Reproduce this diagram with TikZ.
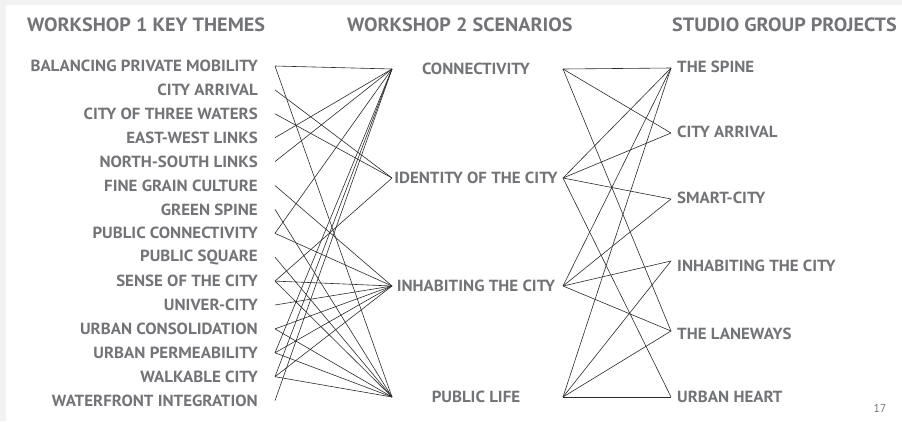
\documentclass[tikz,border=0pt]{standalone}
\usepackage{fontspec}
\setmainfont{PT Sans}
\newfontfamily\labfont[FakeStretch=1.05]{PT Sans}
\definecolor{txtgray}{HTML}{737477}
\definecolor{linegray}{HTML}{2B2B2B}
\definecolor{bggray}{HTML}{F2F2F2}
\begin{document}
\begin{tikzpicture}[x=1pt,y=-1pt,
  title/.style={font=\labfont\bfseries\fontsize{19.2}{20}\selectfont, text=txtgray, inner sep=0pt, anchor=west},
  lab/.style={font=\labfont\bfseries\fontsize{16.1}{17}\selectfont, text=txtgray, inner sep=0pt},
  conn/.style={draw=linegray, line width=0.6pt}]
\fill[bggray] (0,0) rectangle (902,421);
\fill[white] (6,5) rectangle (902,421);
\useasboundingbox (0,0) rectangle (902,421);
% titles
\node[title] (t1) at (27,25) {WORKSHOP 1 KEY THEMES};
\node[title] (t2) at (347,25) {WORKSHOP 2 SCENARIOS};
\node[title] (t3) at (672,25) {STUDIO GROUP PROJECTS};
% left column
\foreach \i/\t in {1/BALANCING PRIVATE MOBILITY,2/CITY ARRIVAL,3/CITY OF THREE WATERS,4/EAST-WEST LINKS,5/NORTH-SOUTH LINKS,6/FINE GRAIN CULTURE,7/GREEN SPINE,8/PUBLIC CONNECTIVITY,9/PUBLIC SQUARE,10/SENSE OF THE CITY,11/UNIVER-CITY,12/URBAN CONSOLIDATION,13/URBAN PERMEABILITY,14/WALKABLE CITY,15/WATERFRONT INTEGRATION}{
  \node[lab, anchor=east] (L\i) at (258,{66+(\i-1)*23.9}) {\t};
  \coordinate (l\i) at (275,{66+(\i-1)*23.9});
}
% middle column
\foreach \n/\y/\t in {C/69/CONNECTIVITY,I/178/IDENTITY OF THE CITY,H/286/INHABITING THE CITY,P/397/PUBLIC LIFE}{
  \node[lab] (M\n) at (476,\y) {\t};
  \coordinate (ml\n) at (392,\y);
  \coordinate (mr\n) at (563,\y);
}
% right column
\foreach \n/\y/\ya/\t in {S/67/68/THE SPINE,A/132/133/CITY ARRIVAL,M/198/199/SMART-CITY,N/266/261/INHABITING THE CITY,L/334/331/THE LANEWAYS,U/397/397/URBAN HEART}{
  \node[lab, anchor=west] (R\n) at (677,\y) {\t};
  \coordinate (r\n) at (671,\ya);
}
\node[font=\fontsize{11.5}{12}\selectfont, text=txtgray, inner sep=0pt] (pg) at (880,408) {17};
% left connectors
\foreach \a/\b in {1/C,1/P,2/I,3/I,4/C,5/C,6/H,7/P,8/C,8/H,9/P,10/I,10/H,10/P,11/H,12/H,12/P,13/C,13/H,13/P,14/C,14/H,14/P,15/C}{
  \draw[conn] (l\a) -- (ml\b);
}
% right connectors
\foreach \a/\b in {C/S,C/A,C/L,I/S,I/A,I/M,I/U,H/S,H/M,H/N,H/L,P/S,P/N,P/L,P/U}{
  \draw[conn] (mr\a) -- (r\b);
}
\end{tikzpicture}
\end{document}
